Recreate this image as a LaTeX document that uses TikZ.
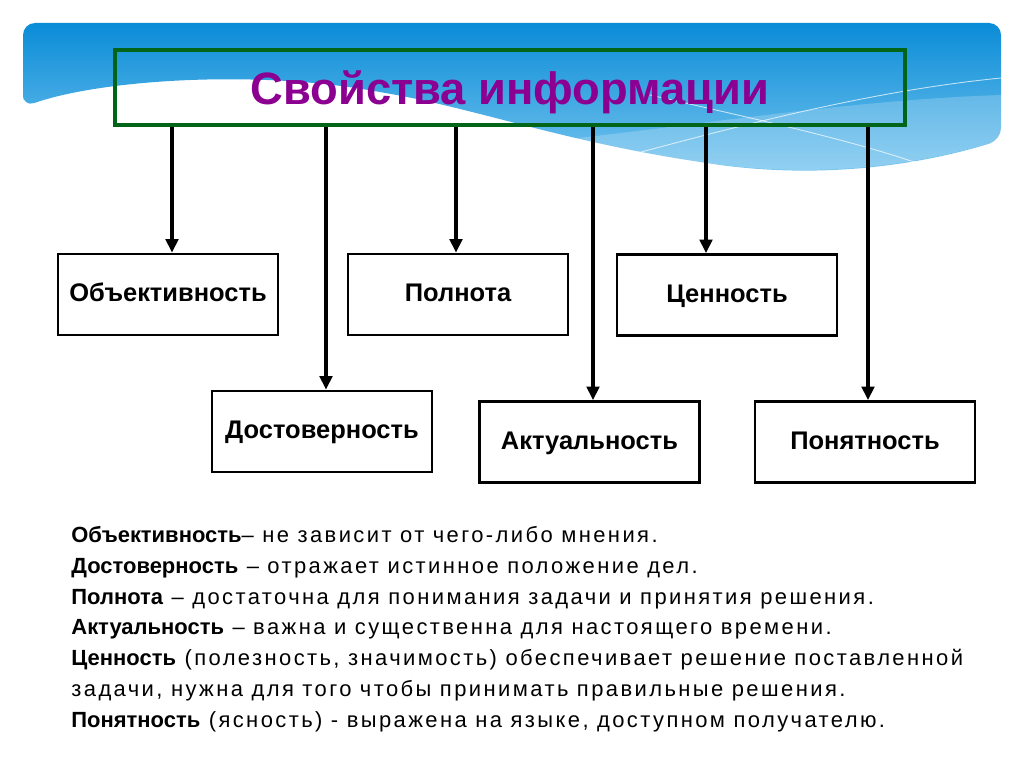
\documentclass[tikz,border=0pt]{standalone}
\usepackage{fontspec}
\setmainfont{Liberation Sans}
\newfontfamily\widefont[LetterSpace=11]{Liberation Sans}
\usetikzlibrary{positioning,calc,arrows.meta}
\definecolor{mypurple}{RGB}{140,0,145}
\definecolor{mygreen}{RGB}{0,100,25}
\definecolor{skytop}{RGB}{10,140,215}
\definecolor{skybottom}{RGB}{125,200,240}
\newcommand{\propname}[1]{{\normalfont\bfseries #1}}

\begin{document}
\begin{tikzpicture}[x=0.02cm,y=-0.02cm,
		  every node/.style={draw,rectangle,line width=1.6pt},
		  propbox/.style={minimum width=4.4cm,minimum height=1.62cm,text height=2.2ex,text depth=0.6ex,
		    font=\fontsize{14.5}{17}\selectfont\bfseries},
		  titlebox/.style={draw=mygreen,line width=2.4pt,minimum width=15.8cm,minimum height=1.5cm,text=mypurple,
		    text depth=0pt,font=\fontsize{25.8}{30}\selectfont\bfseries},
		  arr/.style={line width=2pt,-{Triangle[width=0.25cm,length=0.27cm]}}
		]

			\useasboundingbox (0,0) rectangle (1024,767);

			% the blue wave
			\shade[top color=skytop,bottom color=skybottom,rounded corners=0.24cm]
			  (23,107) -- (23,23) -- (1001,23) -- (1001,140)
			  .. controls (920,165) and (820,180) .. (700,162)
			  .. controls (560,140) and (480,110) .. (380,92)
			  .. controls (250,70) and (100,80) .. (23,107) -- cycle;
			\fill[white,opacity=0.2]
			  (560,140) .. controls (700,125) and (850,100) .. (1001,95) -- (1001,140)
			  .. controls (920,165) and (820,180) .. (700,162)
			  .. controls (630,152) and (600,147) .. (560,140) -- cycle;
			\draw[white,opacity=0.7,line width=0.5pt] (630,155) .. controls (760,120) and (880,90) .. (1001,78);
			\draw[white,opacity=0.7,line width=0.5pt] (650,95) .. controls (760,120) and (850,140) .. (917,163);

			% the title
			\node[titlebox] (title) at (510,87.5) {Свойства информации};

			% the properties
			\foreach \name/\x/\y/\txt in {obj/168/294.5/Объективность, poln/458/294.5/Полнота,
			    cenn/727/295/Ценность, dost/322/431.5/Достоверность,
			    akt/589.5/442/Актуальность, pon/865/442/Понятность}
			  \node[propbox] (\name) at (\x,\y) {\txt};

			% the arrows
			\foreach \name/\dx in {obj/4, dost/4, poln/-2, akt/3.5, cenn/-21, pon/3}
			  \draw[arr] ($(title.south -| \name.north)+(\dx,0)$) -- ($(\name.north)+(\dx,0)$);

			% the definitions
			\node[draw=none,inner sep=0pt,anchor=base west,align=left,
			  font=\widefont\fontsize{12.5}{17.5}\selectfont] (defs) at (70,727)
			  {\propname{Объективность}– не зависит от чего-либо мнения.\\
			   \propname{Достоверность} – отражает истинное положение дел.\\
			   \propname{Полнота} – достаточна для понимания задачи и принятия решения.\\
			   \propname{Актуальность} – важна и существенна для настоящего времени.\\
			   \propname{Ценность} (полезность, значимость) обеспечивает решение поставленной\\
			   задачи, нужна для того чтобы принимать правильные решения.\\
			   \propname{Понятность} (ясность) - выражена на языке, доступном получателю.};

		\end{tikzpicture}
\end{document}
